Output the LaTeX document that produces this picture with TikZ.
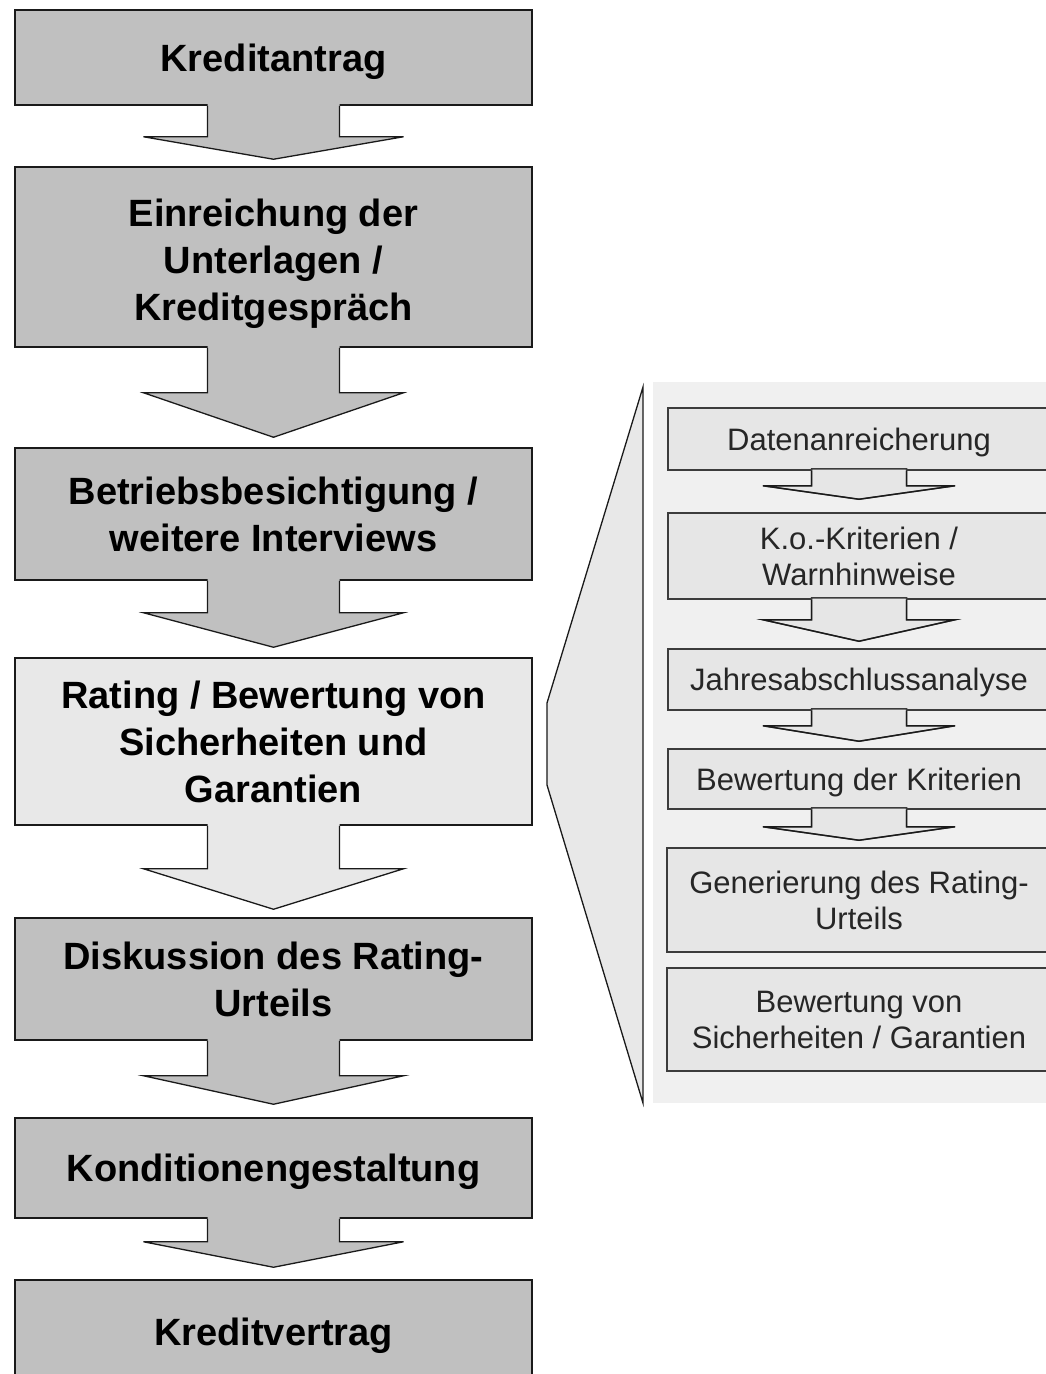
\documentclass[tikz,border=0pt]{standalone}
\usepackage{fontspec}
\setmainfont{Liberation Sans}
\usetikzlibrary{calc}

\definecolor{darkbox}{HTML}{C0C0C0}
\definecolor{lightbox}{HTML}{E8E8E8}
\definecolor{panelbg}{HTML}{F0F0F0}
\definecolor{subbox}{HTML}{E6E6E6}
\definecolor{edge}{HTML}{1A1A1A}

% block arrow hanging below a box: from, to, wing drop, tip gap, stem half width, wing half width, fill colour
\newcommand{\blockarrow}[7]{%
  \fill[#7] ($(#1.south)+(-#5,-2)$) -- ($(#1.south)+(-#5,#3)$) -- ($(#1.south)+(-#6,#3)$)
    -- ($(#2.north)+(0,-#4)$) -- ($(#1.south)+(#6,#3)$) -- ($(#1.south)+(#5,#3)$)
    -- ($(#1.south)+(#5,-2)$) -- cycle;
  \draw[arrowline] ($(#1.south)+(-#5,0)$) -- ($(#1.south)+(-#5,#3)$) -- ($(#1.south)+(-#6,#3)$)
    -- ($(#2.north)+(0,-#4)$) -- ($(#1.south)+(#6,#3)$) -- ($(#1.south)+(#5,#3)$)
    -- ($(#1.south)+(#5,0)$);
}

\begin{document}
\begin{tikzpicture}[x=1pt,y=-1pt,
  mainbox/.style={draw=edge, line width=1.5pt, fill=darkbox, rectangle, inner sep=0pt,
    minimum width=517pt, align=center,
    font=\fontsize{38}{47}\selectfont\bfseries},
  mainone/.style={mainbox, text height=27pt, text depth=0pt},
  subbox/.style={draw=edge!85, line width=1.5pt, fill=subbox, rectangle, inner sep=0pt,
    minimum width=382pt, align=center, text=black!85,
    font=\fontsize{31}{36}\selectfont},
  subone/.style={subbox, text height=22pt, text depth=0pt},
  arrowline/.style={draw=edge, line width=1.3pt, line join=miter}]

\clip (0,0) rectangle (1046,1374);
\fill[white] (0,0) rectangle (1046,1374);

% main process column
\node[mainone, minimum height=95pt]  (b1) at (273.5,57.5) {Kreditantrag};
\node[mainbox, minimum height=180pt] (b2) at (273.5,257) {\rule{0pt}{42pt}Einreichung der\\Unterlagen /\\Kreditgespräch};
\node[mainbox, minimum height=132pt] (b3) at (273.5,514) {Betriebsbesichtigung /\\weitere Interviews};
\node[mainbox, minimum height=167pt, fill=lightbox] (b4) at (273.5,741.5) {Rating / Bewertung von\\Sicherheiten und\\Garantien};
\node[mainbox, minimum height=122pt] (b5) at (273.5,979) {Diskussion des Rating-\\Urteils};
\node[mainone, minimum height=100pt] (b6) at (273.5,1168) {Konditionengestaltung};
\node[mainone, minimum height=104pt] (b7) at (273.5,1332) {Kreditvertrag};

\blockarrow{b1}{b2}{31}{7}{66}{130}{darkbox}
\blockarrow{b2}{b3}{45}{10}{66}{130}{darkbox}
\blockarrow{b3}{b4}{32}{10}{66}{130}{darkbox}
\blockarrow{b4}{b5}{43}{8}{66}{130}{lightbox}
\blockarrow{b5}{b6}{35}{13}{66}{130}{darkbox}
\blockarrow{b6}{b7}{23}{12}{66}{130}{darkbox}

% detail panel for the rating step
\fill[panelbg] (653,382) rectangle (1046,1103);
\coordinate (f1) at (547,703);
\coordinate (f2) at (643,387);
\coordinate (f3) at (643,1103);
\coordinate (f4) at (547,785);
\filldraw[fill=lightbox, draw=edge, line width=1.3pt] (f1) -- (f2) -- (f3) -- (f4) -- cycle;

\node[subone, minimum height=62pt]  (s1) at (859,439) {Datenanreicherung};
\node[subbox, minimum height=86pt]  (s2) at (859,556) {K.o.-Kriterien /\\Warnhinweise};
\node[subone, minimum height=61pt]  (s3) at (859,679.5) {Jahresabschlussanalyse};
\node[subone, minimum height=60pt]  (s4) at (859,779) {Bewertung der Kriterien};
\node[subbox, minimum height=104pt, minimum width=384pt] (s5) at (859,900) {Generierung des Rating-\\Urteils};
\node[subbox, minimum height=103pt, minimum width=384pt] (s6) at (859,1019.5) {Bewertung von\\Sicherheiten / Garantien};

\blockarrow{s1}{s2}{15}{13}{47.5}{96}{subbox}
\blockarrow{s2}{s3}{20}{7}{47.5}{96}{subbox}
\blockarrow{s3}{s4}{15}{7}{47.5}{96}{subbox}
\blockarrow{s4}{s5}{17}{7}{47.5}{96}{subbox}

\end{tikzpicture}
\end{document}
